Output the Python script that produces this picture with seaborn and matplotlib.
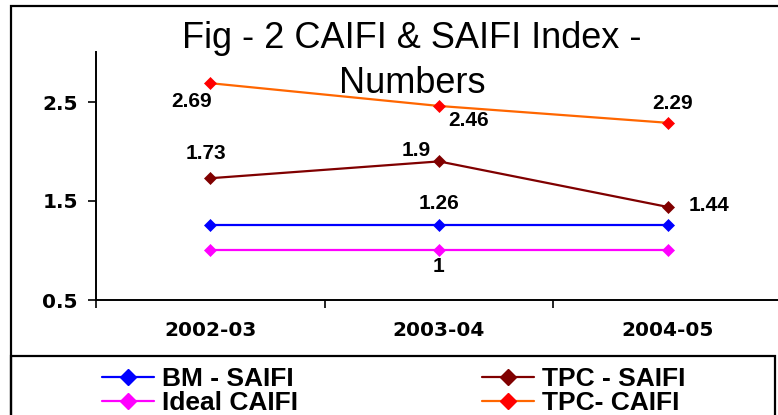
import matplotlib
matplotlib.use("Agg")
import matplotlib.pyplot as plt
from matplotlib.patches import Rectangle
from matplotlib.lines import Line2D
import seaborn as sns
import pandas as pd

# Yearly reliability indices
years = ["2002-03", "2003-04", "2004-05"]
bm_saifi = [1.26, 1.26, 1.26]
ideal_caifi = [1.0, 1.0, 1.0]
tpc_saifi = [1.73, 1.9, 1.44]
tpc_caifi = [2.69, 2.46, 2.29]
y_ticks = [0.5, 1.5, 2.5]

series = [
    ("BM - SAIFI", bm_saifi, "#0000FF", "#0000FF"),
    ("Ideal CAIFI", ideal_caifi, "#FF00FF", "#FF00FF"),
    ("TPC - SAIFI", tpc_saifi, "#800000", "#800000"),
    ("TPC- CAIFI", tpc_caifi, "#FF6600", "#FF0000"),
]

sns.set_theme(style="white")
plt.rcParams["font.family"] = ["Liberation Sans", "DejaVu Sans"]
plt.rcParams.update({"text.color": "black", "axes.labelcolor": "black",
                     "xtick.color": "black", "ytick.color": "black"})

W, H = 778, 415
fig = plt.figure(figsize=(W / 100, H / 100), dpi=100)

# outer chart frame and legend box (pixel geometry -> figure fraction)
def fx(px):
    return px / W

def fy(py):
    return 1 - py / H

fig.patches.append(Rectangle((fx(11), fy(470)), fx(900), 464 / H,
                             transform=fig.transFigure, fill=False,
                             edgecolor="black", linewidth=1.6, zorder=0))
fig.patches.append(Rectangle((fx(11), fy(470)), fx(764), 114 / H,
                             transform=fig.transFigure, fill=False,
                             edgecolor="black", linewidth=1.6, zorder=0))

ax = fig.add_axes([fx(96), fy(300), fx(782) - fx(96), (300 - 52.5) / H])
ax.set_facecolor("none")

x_idx = list(range(len(years)))
handles = []
for name, vals, lc, mc in series:
    df = pd.DataFrame({"x": x_idx, "y": vals})
    sns.lineplot(data=df, x="x", y="y", ax=ax, color=lc, linewidth=1.6,
                 marker="D", markersize=6.5, markerfacecolor=mc,
                 markeredgecolor=mc, markeredgewidth=0.5, legend=False)
    handles.append(Line2D([], [], color=lc, linewidth=1.6, marker="D",
                          markersize=8, markerfacecolor=mc,
                          markeredgecolor=mc, label=name))

# value labels
label_font = dict(fontsize=15, fontweight="bold", color="black",
                  ha="center", va="center")
notes = [
    (0, tpc_caifi[0], (-19, -18)),
    (1, tpc_caifi[1], (30, -15)),
    (2, tpc_caifi[2], (5, 19)),
    (0, tpc_saifi[0], (-4, 25)),
    (1, tpc_saifi[1], (-23, 11)),
    (2, tpc_saifi[2], (41, 1)),
    (1, bm_saifi[1], (0, 21)),
    (1, ideal_caifi[1], (0, -16)),
]
for xi, v, off in notes:
    txt = f"{v:g}"
    ax.annotate(txt, (xi, v), xytext=(off[0] * 0.72, off[1] * 0.72),
                textcoords="offset points", **label_font)

ax.set_xlim(-0.5, 2.5)
ax.set_ylim(0.5, 3.0)
ax.set_yticks(y_ticks)
ax.set_yticklabels([f"{t:g}" for t in y_ticks])
ax.set_xticks(x_idx)
ax.set_xticklabels(years)
ax.set_xticks([-0.5, 0.5, 1.5], minor=True)
ax.tick_params(axis="x", which="major", length=0, pad=15)
ax.tick_params(axis="x", which="minor", length=6, width=1.2,
               direction="out", bottom=True, color="black")
ax.tick_params(axis="y", length=6, width=1.2, direction="out", left=True,
               pad=7, color="black")
for lab in ax.get_xticklabels() + ax.get_yticklabels():
    lab.set_fontweight("bold")
    lab.set_fontfamily(["DejaVu Sans"])
    lab.set_fontsize(14.5)
    lab.set_color("black")
ax.set_xlabel("")
ax.set_ylabel("")
for s in ["top", "right"]:
    ax.spines[s].set_visible(False)
for s in ["left", "bottom"]:
    ax.spines[s].set_color("black")
    ax.spines[s].set_linewidth(1.4)
ax.grid(False)

# two-line chart title
fig.text(fx(412), fy(48), "Fig - 2 CAIFI & SAIFI Index -",
         ha="center", va="baseline", fontsize=26, color="black")
fig.text(fx(412), fy(93), "Numbers",
         ha="center", va="baseline", fontsize=26, color="black")

leg = fig.legend(handles=handles, ncol=2, loc="upper left",
                 bbox_to_anchor=(fx(89), fy(354)), frameon=False,
                 prop={"size": 19, "weight": "bold"}, handlelength=1.95,
                 handletextpad=0.3, columnspacing=7.0, labelspacing=0.0,
                 borderpad=0.0)
for t in leg.get_texts():
    t.set_color("black")

fig.savefig("out.png", dpi=100)
